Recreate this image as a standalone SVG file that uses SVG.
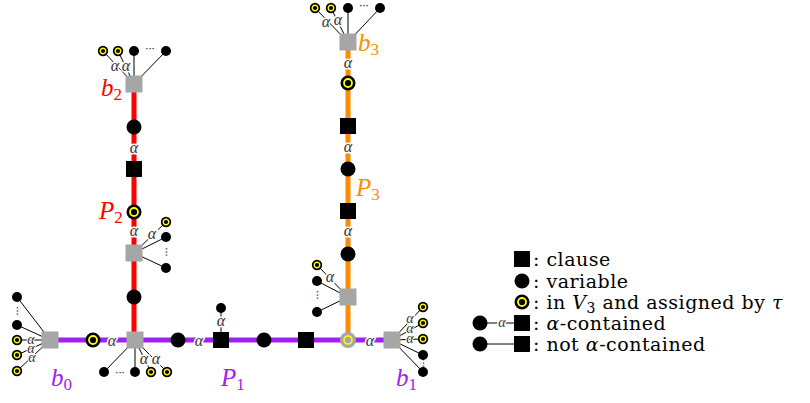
<svg xmlns="http://www.w3.org/2000/svg" xmlns:xlink="http://www.w3.org/1999/xlink" width="810" height="403" viewBox="0 0 810 403">
  <style>
    .path1 { stroke: #a020f0; stroke-width: 5; fill: none; }
    .path2 { stroke: #ff0000; stroke-width: 5; fill: none; }
    .path3 { stroke: #ff8c00; stroke-width: 5; fill: none; }
    .leafedge { stroke: #000; stroke-width: 1; fill: none; }
    .alpha { font-family: "Liberation Serif", "DejaVu Serif", serif; font-style: italic; font-size: 16px; fill: #333; text-anchor: middle; dominant-baseline: central; paint-order: stroke; stroke: #fff; stroke-width: 3px; }
    .tight { font-size: 14px; stroke-width: 2px; }
    .dots { font-family: "DejaVu Sans", sans-serif; font-size: 10px; fill: #000; text-anchor: middle; dominant-baseline: central; }
    .lbl { font-family: "Liberation Serif", "DejaVu Serif", serif; font-style: italic; font-size: 25px; }
    .sub { font-style: normal; font-size: 17px; }
    .legend { font-family: "DejaVu Serif", "Liberation Serif", serif; font-size: 19px; letter-spacing: 0.5px; fill: #000; }
  </style>
  <defs>
    <g id="var"><circle r="7.5" fill="#000"/></g>
    <g id="clause"><rect x="-8" y="-8" width="16" height="16" fill="#000"/></g>
    <g id="junction"><rect x="-8.5" y="-8.5" width="17" height="17" fill="#a6a6a6"/></g>
    <g id="v3"><circle r="7.5" fill="#000"/><circle r="4" fill="none" stroke="#ffff00" stroke-width="1.8"/></g>
    <g id="leaf"><circle r="5" fill="#000"/></g>
    <g id="leafv3"><circle r="5.2" fill="#000"/><circle r="2.8" fill="none" stroke="#ffff00" stroke-width="1.4"/></g>
  </defs>

  <!-- connectors -->
  <g id="connectors">
    <!-- paths -->
    <line class="path1" x1="50" y1="340" x2="392" y2="340"/>
    <line class="path2" x1="134" y1="84" x2="134" y2="340"/>
    <line class="path3" x1="348" y1="42" x2="348" y2="340"/>

    <!-- leaves of b2 -->
    <line class="leafedge" x1="134" y1="84" x2="103" y2="51"/>
    <line class="leafedge" x1="134" y1="84" x2="118" y2="51"/>
    <line class="leafedge" x1="134" y1="84" x2="134" y2="51"/>
    <line class="leafedge" x1="134" y1="84" x2="166" y2="51"/>
    <!-- leaves of b3 -->
    <line class="leafedge" x1="348" y1="42" x2="315" y2="8"/>
    <line class="leafedge" x1="348" y1="42" x2="331" y2="8"/>
    <line class="leafedge" x1="348" y1="42" x2="348" y2="8"/>
    <line class="leafedge" x1="348" y1="42" x2="380" y2="8"/>
    <!-- leaves of junction on P2 -->
    <line class="leafedge" x1="134" y1="253" x2="166" y2="222"/>
    <line class="leafedge" x1="134" y1="253" x2="166" y2="237"/>
    <line class="leafedge" x1="134" y1="253" x2="166" y2="268"/>
    <!-- leaves of junction on P3 -->
    <line class="leafedge" x1="348" y1="297" x2="317" y2="265"/>
    <line class="leafedge" x1="348" y1="297" x2="317" y2="281"/>
    <line class="leafedge" x1="348" y1="297" x2="317" y2="312"/>
    <!-- leaves of b0 -->
    <line class="leafedge" x1="50" y1="340" x2="17" y2="297"/>
    <line class="leafedge" x1="50" y1="340" x2="17" y2="325"/>
    <line class="leafedge" x1="50" y1="340" x2="17" y2="340"/>
    <line class="leafedge" x1="50" y1="340" x2="17" y2="355"/>
    <line class="leafedge" x1="50" y1="340" x2="17" y2="371"/>
    <!-- leaves of center junction -->
    <line class="leafedge" x1="135" y1="340" x2="104" y2="372"/>
    <line class="leafedge" x1="135" y1="340" x2="135" y2="372"/>
    <line class="leafedge" x1="135" y1="340" x2="151" y2="372"/>
    <line class="leafedge" x1="135" y1="340" x2="167" y2="372"/>
    <!-- leaf of clause on P1 -->
    <line class="leafedge" x1="221" y1="340" x2="221" y2="308"/>
    <!-- leaves of b1 -->
    <line class="leafedge" x1="392" y1="340" x2="423" y2="307"/>
    <line class="leafedge" x1="392" y1="340" x2="423" y2="323"/>
    <line class="leafedge" x1="392" y1="340" x2="423" y2="339"/>
    <line class="leafedge" x1="392" y1="340" x2="423" y2="355"/>
    <line class="leafedge" x1="392" y1="340" x2="423" y2="372"/>

    <!-- alpha labels -->
    <text class="alpha" x="115" y="65">α</text>
    <text class="alpha" x="126" y="65">α</text>
    <text class="alpha" x="134" y="147">α</text>
    <text class="alpha" x="134" y="230">α</text>
    <text class="alpha" x="152" y="233">α</text>
    <text class="alpha" x="326" y="21">α</text>
    <text class="alpha" x="338" y="19">α</text>
    <text class="alpha" x="348" y="62">α</text>
    <text class="alpha" x="348" y="146">α</text>
    <text class="alpha" x="348" y="230">α</text>
    <text class="alpha" x="330" y="276">α</text>
    <text class="alpha tight" x="31" y="339">α</text>
    <text class="alpha tight" x="31" y="348">α</text>
    <text class="alpha tight" x="32" y="357">α</text>
    <text class="alpha" x="112" y="340">α</text>
    <text class="alpha" x="144" y="358">α</text>
    <text class="alpha" x="156" y="358">α</text>
    <text class="alpha" x="199" y="340">α</text>
    <text class="alpha" x="221" y="320">α</text>
    <text class="alpha" x="370" y="340">α</text>
    <text class="alpha tight" x="410" y="318">α</text>
    <text class="alpha tight" x="410" y="328">α</text>
    <text class="alpha tight" x="410" y="338">α</text>
  </g>

  <!-- path P2 (red) -->
  <g id="b2"><use href="#junction" x="134" y="84"/></g>
  <g id="b2-leaves">
    <use href="#leafv3" x="103" y="51"/>
    <use href="#leafv3" x="118" y="51"/>
    <use href="#leaf" x="134" y="51"/>
    <text class="dots" x="150" y="48">···</text>
    <use href="#leaf" x="166" y="51"/>
  </g>
  <g id="p2-var1"><use href="#var" x="134" y="127"/></g>
  <g id="p2-clause1"><use href="#clause" x="134" y="169"/></g>
  <g id="p2-var2"><use href="#v3" x="134" y="212"/></g>
  <g id="p2-junction"><use href="#junction" x="134" y="253"/></g>
  <g id="p2-junction-leaves">
    <use href="#leafv3" x="166" y="222"/>
    <use href="#leaf" x="166" y="237"/>
    <text class="dots" x="166" y="252" transform="rotate(90 166 252)">···</text>
    <use href="#leaf" x="166" y="268"/>
  </g>
  <g id="p2-var3"><use href="#var" x="134" y="297"/></g>

  <!-- path P3 (orange) -->
  <g id="b3"><use href="#junction" x="348" y="42"/></g>
  <g id="b3-leaves">
    <use href="#leafv3" x="315" y="8"/>
    <use href="#leafv3" x="331" y="8"/>
    <use href="#leaf" x="348" y="8"/>
    <text class="dots" x="364" y="5">···</text>
    <use href="#leaf" x="380" y="8"/>
  </g>
  <g id="p3-var1"><use href="#v3" x="348" y="83"/></g>
  <g id="p3-clause1"><use href="#clause" x="348" y="126"/></g>
  <g id="p3-var2"><use href="#var" x="348" y="169"/></g>
  <g id="p3-clause2"><use href="#clause" x="348" y="211"/></g>
  <g id="p3-var3"><use href="#var" x="348" y="254"/></g>
  <g id="p3-junction"><use href="#junction" x="348" y="297"/></g>
  <g id="p3-junction-leaves">
    <use href="#leafv3" x="317" y="265"/>
    <use href="#leaf" x="317" y="281"/>
    <text class="dots" x="317" y="295" transform="rotate(90 317 295)">···</text>
    <use href="#leaf" x="317" y="312"/>
  </g>

  <!-- path P1 (purple) -->
  <g id="b0"><use href="#junction" x="50" y="340"/></g>
  <g id="b0-leaves">
    <use href="#leaf" x="17" y="297"/>
    <text class="dots" x="17" y="311" transform="rotate(90 17 311)">···</text>
    <use href="#leaf" x="17" y="325"/>
    <use href="#leafv3" x="17" y="340"/>
    <use href="#leafv3" x="17" y="355"/>
    <use href="#leafv3" x="17" y="371"/>
  </g>
  <g id="p1-var1"><use href="#v3" x="93" y="340"/></g>
  <g id="center"><use href="#junction" x="135" y="340"/></g>
  <g id="center-leaves">
    <use href="#leaf" x="104" y="372"/>
    <text class="dots" x="120" y="372">···</text>
    <use href="#leaf" x="135" y="372"/>
    <use href="#leafv3" x="151" y="372"/>
    <use href="#leafv3" x="167" y="372"/>
  </g>
  <g id="p1-var2"><use href="#var" x="178" y="340"/></g>
  <g id="p1-clause1"><use href="#clause" x="221" y="340"/></g>
  <g id="p1-clause1-leaf"><use href="#leaf" x="221" y="308"/></g>
  <g id="p1-var3"><use href="#var" x="264" y="340"/></g>
  <g id="p1-clause2"><use href="#clause" x="306" y="340"/></g>
  <g id="meet"><circle cx="348" cy="340" r="8" fill="#a6a6a6"/><circle cx="348" cy="340" r="4" fill="none" stroke="#ffff00" stroke-width="1.6"/></g>
  <g id="b1"><use href="#junction" x="392" y="340"/></g>
  <g id="b1-leaves">
    <use href="#leafv3" x="423" y="307"/>
    <use href="#leafv3" x="423" y="323"/>
    <use href="#leafv3" x="423" y="339"/>
    <use href="#leaf" x="423" y="355"/>
    <text class="dots" x="423" y="363" transform="rotate(90 423 363)">···</text>
    <use href="#leaf" x="423" y="372"/>
  </g>

  <!-- names -->
  <g id="labels">
    <text class="lbl" x="101" y="96" fill="#ff0000">b<tspan class="sub" dy="4">2</tspan></text>
    <text class="lbl" x="99" y="219" fill="#ff0000">P<tspan class="sub" dy="4">2</tspan></text>
    <text class="lbl" x="358" y="51" fill="#ff8c00">b<tspan class="sub" dy="4">3</tspan></text>
    <text class="lbl" x="356" y="196" fill="#ff8c00">P<tspan class="sub" dy="4">3</tspan></text>
    <text class="lbl" x="51" y="386" fill="#a020f0">b<tspan class="sub" dy="4">0</tspan></text>
    <text class="lbl" x="221" y="386" fill="#a020f0">P<tspan class="sub" dy="4">1</tspan></text>
    <text class="lbl" x="396" y="386" fill="#a020f0">b<tspan class="sub" dy="4">1</tspan></text>
  </g>

  <!-- legend -->
  <g id="legend">
    <use href="#clause" x="522" y="259"/>
    <text class="legend" x="533" y="266">: clause</text>
    <use href="#var" x="522" y="281"/>
    <text class="legend" x="533" y="288">: variable</text>
    <use href="#v3" x="522" y="302"/>
    <text class="legend" x="533" y="309">: in <tspan font-style="italic">V</tspan><tspan font-size="14" dy="4">3</tspan><tspan dy="-4"> and assigned by </tspan><tspan font-style="italic">τ</tspan></text>
    <line class="leafedge" x1="480" y1="323" x2="522" y2="323"/>
    <text class="alpha" x="502" y="322" style="font-size:14px">α</text>
    <use href="#var" x="480" y="323"/>
    <use href="#clause" x="522" y="323"/>
    <text class="legend" x="533" y="330">: <tspan font-style="italic">α</tspan>-contained</text>
    <line class="leafedge" x1="480" y1="344" x2="522" y2="344"/>
    <use href="#var" x="480" y="344"/>
    <use href="#clause" x="522" y="344"/>
    <text class="legend" x="533" y="351">: not <tspan font-style="italic">α</tspan>-contained</text>
  </g>
</svg>
